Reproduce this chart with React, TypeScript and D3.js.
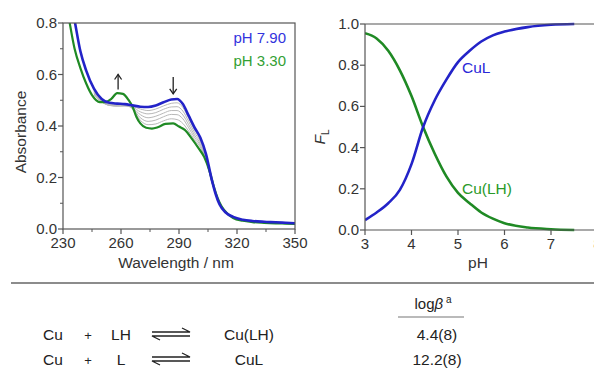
import React from 'react';
import * as d3 from 'd3';

// ---- left panel: UV-vis spectra ----
const wlBlue = [230, 233, 236, 239, 242, 246, 250, 254, 258, 262, 266, 270, 274, 278, 282, 286, 289, 292, 295, 298, 301, 304, 307, 309, 311, 314, 318, 323, 328, 334, 340, 345, 350];
const absBlue = [1.05, 0.93, 0.81, 0.69, 0.615, 0.545, 0.505, 0.49, 0.487, 0.485, 0.48, 0.475, 0.474, 0.48, 0.492, 0.503, 0.505, 0.485, 0.44, 0.395, 0.355, 0.29, 0.19, 0.135, 0.095, 0.065, 0.047, 0.036, 0.031, 0.028, 0.026, 0.024, 0.022];

const wlGreen = [230, 233, 236, 239, 242, 245, 249, 252, 255, 258, 261, 264, 266, 268, 270, 273, 276, 279, 283, 287, 290, 293, 297, 300, 303, 306, 308, 310, 312, 315, 318, 323, 328, 334, 340, 345, 350];
const absGreen = [0.95, 0.82, 0.70, 0.625, 0.565, 0.52, 0.493, 0.493, 0.505, 0.528, 0.525, 0.5, 0.475, 0.435, 0.41, 0.393, 0.39, 0.395, 0.408, 0.41, 0.398, 0.385, 0.347, 0.315, 0.28, 0.22, 0.165, 0.12, 0.088, 0.06, 0.043, 0.032, 0.027, 0.024, 0.022, 0.021, 0.02];

const wlGray = [246, 250, 254, 258, 262, 266, 270, 274, 278, 282, 286, 289, 292, 295, 298, 301, 304, 307, 310];
const absGray1 = [0.54, 0.5, 0.485, 0.482, 0.48, 0.476, 0.466, 0.46, 0.466, 0.478, 0.488, 0.49, 0.472, 0.43, 0.385, 0.347, 0.285, 0.188, 0.11];
const absGray2 = [0.535, 0.497, 0.482, 0.478, 0.478, 0.473, 0.455, 0.447, 0.452, 0.465, 0.474, 0.475, 0.458, 0.418, 0.375, 0.34, 0.28, 0.186, 0.11];
const absGray3 = [0.53, 0.495, 0.48, 0.477, 0.478, 0.47, 0.444, 0.432, 0.438, 0.45, 0.46, 0.46, 0.443, 0.405, 0.365, 0.332, 0.275, 0.184, 0.112];
const absGray4 = [0.525, 0.494, 0.48, 0.478, 0.48, 0.468, 0.432, 0.418, 0.423, 0.436, 0.445, 0.444, 0.428, 0.393, 0.356, 0.325, 0.27, 0.182, 0.112];
const absGray5 = [0.52, 0.493, 0.482, 0.482, 0.485, 0.466, 0.422, 0.405, 0.408, 0.42, 0.428, 0.425, 0.41, 0.38, 0.347, 0.318, 0.266, 0.18, 0.113];

const wlTicks = [230, 260, 290, 320, 350];
const wlMinor = [245, 275, 305, 335];
const absTicks = [0, 0.2, 0.4, 0.6, 0.8];
const absMinor = [0.1, 0.3, 0.5, 0.7];

// ---- right panel: speciation ----
const pH = [3.0, 3.25, 3.5, 3.75, 4.0, 4.25, 4.5, 4.75, 5.0, 5.25, 5.5, 5.75, 6.0, 6.5, 7.0, 7.5];
const fCuL = [0.048, 0.085, 0.13, 0.195, 0.32, 0.5, 0.63, 0.73, 0.815, 0.87, 0.915, 0.945, 0.963, 0.985, 0.996, 1.0];
const fCuLH = [0.955, 0.93, 0.87, 0.775, 0.65, 0.5, 0.37, 0.26, 0.18, 0.13, 0.085, 0.055, 0.033, 0.012, 0.004, 0.0];
const pHTicks = [3, 4, 5, 6, 7, 8];
const fTicks = [0, 0.2, 0.4, 0.6, 0.8, 1.0];

// ---- table ----
const metal = ['Cu', 'Cu'];
const ligand = ['LH', 'L'];
const complex = ['Cu(LH)', 'CuL'];
const logBeta = ['4.4(8)', '12.2(8)'];

const BLUE = '#2323c8';
const GREEN = '#1f8a24';
const INK = '#333';
const FONT = 'Liberation Sans, Arial, sans-serif';

export default function App() {
  const xL = d3.scaleLinear().domain([230, 350]).range([63, 295]);
  const yL = d3.scaleLinear().domain([0, 0.8]).range([229, 23]);
  const xR = d3.scaleLinear().domain([3, 8]).range([365, 597.5]);
  const yR = d3.scaleLinear().domain([0, 1]).range([230, 24]);

  const specLine = (wl: number[], a: number[]) =>
    d3.line<number>().x((_, i) => xL(wl[i])).y(d => yL(d)).curve(d3.curveMonotoneX)(a) || '';
  const specR = (v: number[]) =>
    d3.line<number>().x((_, i) => xR(pH[i])).y(d => yR(d)).curve(d3.curveMonotoneX)(v) || '';

  const grays = [absGray1, absGray2, absGray3, absGray4, absGray5];
  const rowY = [340, 365];

  return (
    <svg width={594} height={381} style={{ position: 'absolute', left: 0, top: 0, background: '#fff' }}
      fontFamily={FONT}>
      <defs>
        <clipPath id="clipL">
          <rect x={63} y={23} width={232} height={206} />
        </clipPath>
        <clipPath id="clipR">
          <rect x={365} y={20} width={240} height={212} />
        </clipPath>
      </defs>

      {/* left panel */}
      <g clipPath="url(#clipL)" fill="none">
        {grays.map((g, i) => (
          <path key={i} d={specLine(wlGray, g)} stroke="#b8b8b8" strokeWidth={1} />
        ))}
        <path d={specLine(wlGreen, absGreen)} stroke={GREEN} strokeWidth={2.2} />
        <path d={specLine(wlBlue, absBlue)} stroke={BLUE} strokeWidth={2.6} />
      </g>
      <rect x={63} y={23} width={232} height={206} fill="none" stroke="#555" strokeWidth={1.2} />
      {absTicks.map(t => (
        <g key={t}>
          <line x1={58} x2={63} y1={yL(t)} y2={yL(t)} stroke="#555" strokeWidth={1.2} />
          <text x={57} y={yL(t) + 5} textAnchor="end" fontSize={15} fill={INK}>{t.toFixed(1)}</text>
        </g>
      ))}
      {absMinor.map(t => (
        <line key={t} x1={60} x2={63} y1={yL(t)} y2={yL(t)} stroke="#555" strokeWidth={1} />
      ))}
      {wlTicks.map(t => (
        <g key={t}>
          <line x1={xL(t)} x2={xL(t)} y1={229} y2={234} stroke="#555" strokeWidth={1.2} />
          <text x={xL(t)} y={248} textAnchor="middle" fontSize={15} fill={INK}>{t}</text>
        </g>
      ))}
      {wlMinor.map(t => (
        <line key={t} x1={xL(t)} x2={xL(t)} y1={229} y2={232} stroke="#555" strokeWidth={1} />
      ))}
      <text x={176} y={268} textAnchor="middle" fontSize={15.5} fill={INK}>Wavelength / nm</text>
      <text transform="translate(26,132) rotate(-90)" textAnchor="middle" fontSize={15.5} fill={INK}>Absorbance</text>
      <text x={286} y={43} textAnchor="end" fontSize={15} fill="#3333dd">pH 7.90</text>
      <text x={286} y={66} textAnchor="end" fontSize={15} fill="#33a033">pH 3.30</text>
      {/* arrows */}
      <g stroke="#222" strokeWidth={1.3} fill="none">
        <line x1={xL(258.5)} x2={xL(258.5)} y1={yL(0.542)} y2={yL(0.6)} />
        <path d={`M${xL(258.5) - 3.5},${yL(0.6) + 5} L${xL(258.5)},${yL(0.6)} L${xL(258.5) + 3.5},${yL(0.6) + 5}`} />
        <line x1={xL(287)} x2={xL(287)} y1={yL(0.59)} y2={yL(0.525)} />
        <path d={`M${xL(287) - 3.5},${yL(0.525) - 5} L${xL(287)},${yL(0.525)} L${xL(287) + 3.5},${yL(0.525) - 5}`} />
      </g>

      {/* right panel */}
      <g clipPath="url(#clipR)" fill="none">
        <path d={specR(fCuLH)} stroke={GREEN} strokeWidth={2.6} />
        <path d={specR(fCuL)} stroke={BLUE} strokeWidth={2.6} />
      </g>
      <line x1={365} x2={600} y1={24} y2={24} stroke="#555" strokeWidth={1.2} />
      <line x1={365} x2={600} y1={230} y2={230} stroke="#555" strokeWidth={1.2} />
      <line x1={365} x2={365} y1={24} y2={230} stroke="#555" strokeWidth={1.2} />
      {fTicks.map(t => (
        <g key={t}>
          <line x1={360} x2={365} y1={yR(t)} y2={yR(t)} stroke="#555" strokeWidth={1.2} />
          <text x={359} y={yR(t) + 5} textAnchor="end" fontSize={15} fill={INK}>{t.toFixed(1)}</text>
        </g>
      ))}
      {pHTicks.map(t => (
        <g key={t}>
          <line x1={xR(t)} x2={xR(t)} y1={230} y2={235} stroke="#555" strokeWidth={1.2} />
          <text x={xR(t)} y={249} textAnchor="middle" fontSize={15} fill={INK}>{t}</text>
        </g>
      ))}
      <text x={478} y={268} textAnchor="middle" fontSize={15.5} fill={INK}>pH</text>
      <text transform="translate(325,137) rotate(-90)" textAnchor="middle" fontSize={15.5} fill={INK}>
        <tspan fontStyle="italic">F</tspan>
        <tspan fontSize={10} dy={4}>L</tspan>
      </text>
      <text x={462} y={73} fontSize={15.5} fill="#2a2ad8">CuL</text>
      <text x={462} y={194} fontSize={15.5} fill="#2a9a2a">Cu(LH)</text>

      {/* divider */}
      <line x1={11} x2={594} y1={283} y2={283} stroke="#8c8c8c" strokeWidth={1.8} />

      {/* table */}
      <text x={433} y={309} textAnchor="middle" fontSize={15} fill="#222">
        log<tspan fontStyle="italic">β</tspan>
        <tspan fontSize={10} dy={-6}> a</tspan>
      </text>
      <line x1={398} x2={464} y1={317} y2={317} stroke="#777" strokeWidth={1.2} />
      {metal.map((m, i) => {
        const y = rowY[i];
        const ay = y - 6;
        return (
          <g key={i} fontSize={15.5} fill="#222" textAnchor="middle">
            <text x={53} y={y}>{m}</text>
            <text x={88} y={y} fontSize={13}>+</text>
            <text x={121} y={y}>{ligand[i]}</text>
            <g stroke="#222" strokeWidth={1.3} fill="none">
              <path d={`M152,${ay - 2} L190,${ay - 2} L182,${ay - 6}`} />
              <path d={`M190,${ay + 2} L152,${ay + 2} L160,${ay + 6}`} />
            </g>
            <text x={249} y={y}>{complex[i]}</text>
            <text x={437} y={y}>{logBeta[i]}</text>
          </g>
        );
      })}
    </svg>
  );
}
